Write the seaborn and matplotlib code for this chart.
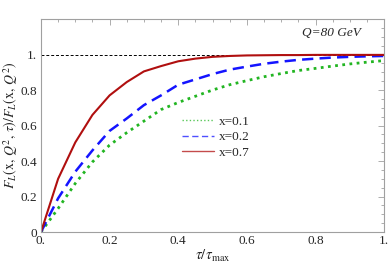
import numpy as np
import pandas as pd
import matplotlib
matplotlib.use("Agg")
import matplotlib.pyplot as plt
from matplotlib.ticker import MultipleLocator, FixedLocator, FixedFormatter
import seaborn as sns

# values
tau = [0.0, 0.05, 0.1, 0.15, 0.2, 0.25, 0.3, 0.35, 0.4, 0.45, 0.5,
       0.55, 0.6, 0.65, 0.7, 0.75, 0.8, 0.85, 0.9, 0.95, 1.0]
ratio_x01 = [0.0, 0.133, 0.274, 0.395, 0.49, 0.56, 0.625, 0.69, 0.73, 0.765, 0.80,
             0.83, 0.853, 0.875, 0.893, 0.91, 0.922, 0.935, 0.947, 0.957, 0.966]
ratio_x02 = [0.0, 0.19, 0.34, 0.46, 0.57, 0.64, 0.715, 0.77, 0.83, 0.86, 0.89,
             0.915, 0.932, 0.948, 0.96, 0.97, 0.977, 0.983, 0.987, 0.99, 0.992]
ratio_x07 = [0.0, 0.30, 0.505, 0.66, 0.77, 0.845, 0.905, 0.935, 0.962, 0.977, 0.987,
             0.992, 0.995, 0.996, 0.997, 0.997, 0.998, 0.998, 0.998, 0.998, 0.998]
labels = ["x=0.1", "x=0.2", "x=0.7"]
xticks = [0, 0.2, 0.4, 0.6, 0.8, 1.0]
xticklabels = ["0.", "0.2", "0.4", "0.6", "0.8", "1."]
yticks = [0, 0.2, 0.4, 0.6, 0.8, 1.0]
yticklabels = ["0", "0.2", "0.4", "0.6", "0.8", "1."]

sns.set_style("white")
plt.rcParams["font.family"] = ["Liberation Serif", "DejaVu Serif"]
plt.rcParams["mathtext.fontset"] = "stix"

fig = plt.figure(figsize=(3.9, 2.68), dpi=100)
ax = fig.add_axes([0.105, 0.134, 0.88, 0.795])

styles = [
    dict(color="#22b522", ls=(0, (1, 1.6)), lw=2.0),
    dict(color="#1414ff", ls=(0, (4.5, 2.5)), lw=1.8),
    dict(color="#b00f0f", ls="-", lw=1.5),
]
for vals, lab, st in zip([ratio_x01, ratio_x02, ratio_x07], labels, styles):
    sns.lineplot(x=tau, y=vals, ax=ax, label=lab, **st)

ax.axhline(1.0, color="black", ls=(0, (3, 2)), lw=0.7, zorder=1)

ax.set_xlim(0, 1)
ax.set_ylim(0, 1.2)
ax.xaxis.set_major_locator(FixedLocator(xticks))
ax.xaxis.set_major_formatter(FixedFormatter(xticklabels))
ax.yaxis.set_major_locator(FixedLocator(yticks))
ax.yaxis.set_major_formatter(FixedFormatter(yticklabels))
ax.xaxis.set_minor_locator(MultipleLocator(0.05))
ax.yaxis.set_minor_locator(MultipleLocator(0.05))
ax.tick_params(which="both", direction="in", top=True, right=True,
               color="#a0a0a0", width=0.6, labelsize=9.5)
ax.tick_params(axis="x", pad=2)
ax.tick_params(axis="y", pad=3)
ax.tick_params(which="major", length=4)
ax.tick_params(which="minor", length=2)
for sp in ax.spines.values():
    sp.set_color("#a0a0a0")
    sp.set_linewidth(0.8)

ax.set_xlabel(r"$\tau/\tau_{\mathrm{max}}$", fontsize=10.5, labelpad=1)
ax.set_ylabel(r"$F_L(\mathrm{x},\,Q^2,\,\tau)/F_L(\mathrm{x},\,Q^2)$", fontsize=10, labelpad=0)

ax.text(0.761, 0.934, "Q=80 GeV", transform=ax.transAxes, fontsize=9.5,
        fontstyle="italic", ha="left", va="center")

leg = ax.legend(loc="upper left", bbox_to_anchor=(0.393, 0.578), frameon=False,
                fontsize=9.5, handlelength=2.4, handletextpad=0.35,
                labelspacing=0.25, borderpad=0)
for line in leg.get_lines():
    line.set_linewidth(1.0)
    line.set_alpha(0.75)

fig.savefig("out.png", dpi=100)
